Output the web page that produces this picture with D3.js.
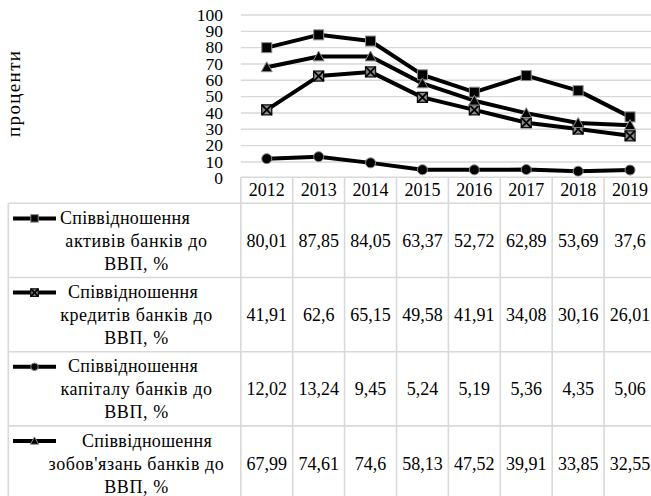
<!DOCTYPE html>
<html>
<head>
<meta charset="utf-8">
<script src="https://cdn.jsdelivr.net/npm/d3@7"></script>
<style>
  body { margin: 0; background: #fff; }
  svg { display: block; }
</style>
</head>
<body>
<svg id="chart" width="651" height="496"></svg>
<script>
// Banking sector ratios to GDP, %
const years = [2012, 2013, 2014, 2015, 2016, 2017, 2018, 2019];
const assetsToGdp      = [80.01, 87.85, 84.05, 63.37, 52.72, 62.89, 53.69, 37.6];
const loansToGdp       = [41.91, 62.6, 65.15, 49.58, 41.91, 34.08, 30.16, 26.01];
const capitalToGdp     = [12.02, 13.24, 9.45, 5.24, 5.19, 5.36, 4.35, 5.06];
const liabilitiesToGdp = [67.99, 74.61, 74.6, 58.13, 47.52, 39.91, 33.85, 32.55];

const seriesLabels = [
  ["Співвідношення", "активів банків до", "ВВП, %"],
  ["Співвідношення", "кредитів банків до", "ВВП, %"],
  ["Співвідношення", "капіталу банків до", "ВВП, %"],
  ["Співвідношення", "зобов'язань банків до", "ВВП, %"]
];
const seriesMarkers = ["square", "xbox", "circle", "triangle"];
const yTicks = [0, 10, 20, 30, 40, 50, 60, 70, 80, 90, 100];
const yTitle = "проценти";

const seriesValues = [assetsToGdp, loansToGdp, capitalToGdp, liabilitiesToGdp];
const series = seriesValues.map((values, i) => ({
  values, label: seriesLabels[i], marker: seriesMarkers[i]
}));

const FONT = '"Liberation Serif"';
const svg = d3.select("#chart");
const fontSize = 18;
const tickFontSize = 17.5;
const gridColor = "#d9d9d9";

// serif text helper
const styleText = sel => sel.style("font-family", FONT).style("fill", "#000");

// Plot geometry
const tableLeft = 8.3;
const plotLeft = 240.8;
const colW = 51.9;
const x = d3.scaleBand().domain(years).range([plotLeft, plotLeft + colW * years.length]).padding(0);
const y = d3.scaleLinear().domain([0, 100]).range([178.3, 15]);
const cx = yr => x(yr) + x.bandwidth() / 2;

// Horizontal gridlines
svg.append("g").selectAll("line")
  .data(yTicks.filter(t => t > 0))
  .join("line")
  .attr("x1", plotLeft).attr("x2", x.range()[1])
  .attr("y1", d => y(d)).attr("y2", d => y(d))
  .attr("stroke", gridColor).attr("stroke-width", 1.4);

// Value axis labels
const yAxis = d3.axisLeft(y).tickValues(yTicks).tickSize(0).tickPadding(plotLeft - 223);
const yg = svg.append("g").attr("transform", `translate(${plotLeft},0)`).call(yAxis);
yg.select(".domain").remove();
yg.selectAll("text")
  .call(styleText)
  .style("font-size", tickFontSize + "px")
  .attr("dy", "0.3em");

// Axis title
svg.append("text")
  .attr("transform", `translate(19.5,94) rotate(-90)`)
  .attr("text-anchor", "middle")
  .attr("textLength", 86)
  .attr("lengthAdjust", "spacing")
  .style("font-size", "19px")
  .call(styleText)
  .text(yTitle);

// Marker shapes
function drawMarker(g, type, s) {
  const h = s / 2;
  if (type === "square") {
    g.append("rect").attr("x", -h).attr("y", -h).attr("width", s).attr("height", s)
      .attr("fill", "#000").attr("stroke", "#8c8c8c").attr("stroke-width", 1);
  } else if (type === "xbox") {
    g.append("rect").attr("x", -h).attr("y", -h).attr("width", s).attr("height", s)
      .attr("fill", "#8a8a8a").attr("stroke", "#111").attr("stroke-width", 1.3);
    g.append("path").attr("d", `M${-h},${-h}L${h},${h}M${-h},${h}L${h},${-h}`)
      .attr("stroke", "#000").attr("stroke-width", 1.8);
  } else if (type === "circle") {
    g.append("circle").attr("r", h)
      .attr("fill", "#000").attr("stroke", "#8c8c8c").attr("stroke-width", 1);
  } else if (type === "triangle") {
    const t = h * 1.1;
    g.append("path").attr("d", `M0,${-t}L${t},${t * 0.8}L${-t},${t * 0.8}Z`)
      .attr("fill", "#000").attr("stroke", "#8c8c8c").attr("stroke-width", 1);
  }
}

// Series lines and markers
const line = d3.line().x((d, i) => cx(years[i])).y(d => y(d));
const sg = svg.append("g");
series.forEach(s => {
  sg.append("path").datum(s.values)
    .attr("d", line)
    .attr("fill", "none").attr("stroke", "#000").attr("stroke-width", 4)
    .attr("stroke-linejoin", "round").attr("stroke-linecap", "round");
});
series.forEach(s => {
  s.values.forEach((v, i) => {
    const g = sg.append("g").attr("transform", `translate(${cx(years[i])},${y(v)})`);
    drawMarker(g, s.marker, 10);
  });
});

// Data table
const yearRowTop = 177.3, yearRowBottom = 203.3;
const rowH = 74.2;
const rowTop = i => yearRowBottom + i * rowH;
const tableBottom = rowTop(series.length);
const tg = svg.append("g");
const border = (x1, y1, x2, y2) => tg.append("line")
  .attr("x1", x1).attr("y1", y1).attr("x2", x2).attr("y2", y2)
  .attr("stroke", gridColor).attr("stroke-width", 1.6);

border(plotLeft, yearRowTop, x.range()[1], yearRowTop);
for (let i = 0; i <= series.length; i++) border(tableLeft, rowTop(i), x.range()[1], rowTop(i));
border(tableLeft, yearRowBottom, tableLeft, tableBottom);
years.forEach(yr => border(x(yr), yearRowTop, x(yr), tableBottom));
border(x.range()[1], yearRowTop, x.range()[1], tableBottom);

// Year header
tg.selectAll("text.year").data(years).join("text")
  .attr("class", "year")
  .attr("x", d => cx(d)).attr("y", yearRowBottom - 7)
  .attr("text-anchor", "middle").style("font-size", fontSize + "px")
  .call(styleText)
  .text(d => d);

// Row labels with legend keys, and values
const lineGap = 23;
const firstLineX = [60, 68, 68, 82];
const labelCenter = 136.5;
const fmt = v => String(v).replace(".", ",");
series.forEach((s, i) => {
  const top = rowTop(i);
  const midBase = top + (rowH / 2) + 6.5;
  const base1 = midBase - lineGap;
  // legend key
  const keyY = base1 - 5.5;
  tg.append("line").attr("x1", 13).attr("x2", 56).attr("y1", keyY).attr("y2", keyY)
    .attr("stroke", "#000").attr("stroke-width", 4);
  const kg = tg.append("g").attr("transform", `translate(34.5,${keyY})`);
  drawMarker(kg, s.marker, 7.5);
  // label lines
  tg.append("text").attr("x", firstLineX[i]).attr("y", base1)
    .style("font-size", fontSize + "px").style("letter-spacing", "0.3px")
    .call(styleText).text(s.label[0]);
  s.label.slice(1).forEach((t, j) => {
    tg.append("text").attr("x", labelCenter).attr("y", midBase + j * lineGap)
      .attr("text-anchor", "middle").style("font-size", fontSize + "px")
      .style("letter-spacing", "0.6px")
      .call(styleText).text(t);
  });
  // values
  s.values.forEach((v, k) => {
    tg.append("text").attr("x", cx(years[k])).attr("y", midBase)
      .attr("text-anchor", "middle").style("font-size", fontSize + "px")
      .call(styleText).text(fmt(v));
  });
});
</script>
</body>
</html>
